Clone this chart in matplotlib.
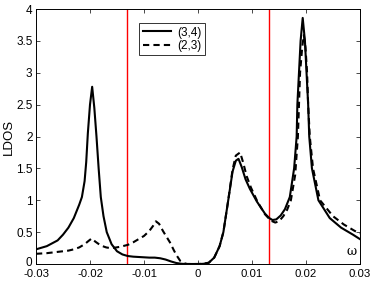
import matplotlib
matplotlib.use("Agg")
import matplotlib.pyplot as plt
from matplotlib.transforms import ScaledTranslation

plt.rcParams['font.family'] = ['Liberation Sans', 'DejaVu Sans']
plt.rcParams['axes.unicode_minus'] = False

w_34 = [-0.030, -0.028, -0.026, -0.025, -0.024, -0.023, -0.022, -0.0215, -0.021, -0.0207,
        -0.0204, -0.0200, -0.0196, -0.0192, -0.0188, -0.0184, -0.0180, -0.0175, -0.0169, -0.016,
        -0.015, -0.014, -0.013, -0.012, -0.011, -0.010, -0.009, -0.008, -0.007, -0.006,
        -0.005, -0.004, -0.003, -0.002, 0.000, 0.001, 0.002, 0.003, 0.004, 0.0047,
        0.0056, 0.0064, 0.0070, 0.0075, 0.0081, 0.0088, 0.0096, 0.0109, 0.0124, 0.0132,
        0.0138, 0.0145, 0.0153, 0.0161, 0.0170, 0.0178, 0.01827, 0.0184, 0.0187, 0.0190,
        0.01939, 0.0198, 0.0201, 0.0204, 0.0206, 0.0211, 0.0223, 0.0244, 0.0265, 0.0287, 0.030]
ldos_34 = [0.23, 0.28, 0.37, 0.46, 0.57, 0.72, 0.93, 1.05, 1.30, 1.60,
           2.05, 2.50, 2.78, 2.45, 2.00, 1.50, 1.05, 0.75, 0.50, 0.31,
           0.20, 0.15, 0.125, 0.115, 0.11, 0.105, 0.10, 0.10, 0.09, 0.07,
           0.04, 0.015, 0.003, 0.0, 0.0, 0.003, 0.02, 0.10, 0.28, 0.50,
           1.00, 1.45, 1.62, 1.65, 1.52, 1.33, 1.18, 0.98, 0.79, 0.72,
           0.69, 0.70, 0.76, 0.86, 1.05, 1.50, 2.00, 2.50, 3.00, 3.50,
           3.86, 3.50, 3.00, 2.50, 2.00, 1.50, 1.00, 0.72, 0.57, 0.46, 0.39]

w_23 = [-0.030, -0.028, -0.026, -0.025, -0.024, -0.023, -0.022, -0.021, -0.0203, -0.0197,
        -0.0190, -0.0180, -0.0170, -0.0163, -0.0155, -0.0144, -0.013, -0.012, -0.011, -0.010,
        -0.009, -0.0083, -0.0078, -0.0072, -0.0065, -0.006, -0.0052, -0.0045, -0.004, -0.0033,
        -0.0025, -0.002, 0.000, 0.001, 0.002, 0.003, 0.004, 0.0047, 0.0056, 0.0064,
        0.0070, 0.0078, 0.0084, 0.0090, 0.0098, 0.0110, 0.0124, 0.0135, 0.0143, 0.0150,
        0.0158, 0.0165, 0.0172, 0.0180, 0.0185, 0.0189, 0.0193, 0.0196, 0.0199, 0.0202,
        0.0204, 0.0207, 0.0213, 0.0226, 0.0250, 0.0270, 0.0290, 0.030]
ldos_23 = [0.16, 0.17, 0.19, 0.20, 0.21, 0.23, 0.26, 0.31, 0.36, 0.40,
           0.35, 0.29, 0.26, 0.25, 0.255, 0.27, 0.30, 0.34, 0.39, 0.44,
           0.52, 0.60, 0.67, 0.63, 0.52, 0.45, 0.34, 0.22, 0.14, 0.05,
           0.01, 0.0, 0.0, 0.003, 0.02, 0.10, 0.28, 0.50, 1.00, 1.48,
           1.70, 1.75, 1.58, 1.38, 1.20, 0.98, 0.78, 0.68, 0.65, 0.67,
           0.75, 0.85, 1.00, 1.40, 2.00, 3.00, 3.40, 3.59, 3.40, 3.00,
           2.50, 2.00, 1.50, 1.00, 0.75, 0.62, 0.52, 0.48]

red_lines = [-0.0131, 0.0131]
xticks = [-0.03, -0.02, -0.01, 0, 0.01, 0.02, 0.03]
xticklabels = ['-0.03', '-0.02', '-0.01', '0', '0.01', '0.02', '0.03']
yticks = [0, 0.5, 1, 1.5, 2, 2.5, 3, 3.5, 4]
yticklabels = ['0', '0.5', '1', '1.5', '2', '2.5', '3', '3.5', '4']

fig = plt.figure(figsize=(3.74, 2.81), dpi=100)
ax = fig.add_axes([36/374, 17/281, 324/374, 255/281])

for xv in red_lines:
    ax.axvline(xv, color='#ff0000', lw=1.0)
ax.plot(w_34, ldos_34, color='black', lw=1.5, label='(3,4)')
ax.plot(w_23, ldos_23, color='black', lw=1.5, ls=(0, (3, 2)), label='(2,3)')

ax.set_xlim(-0.03, 0.03)
ax.set_ylim(0, 4)
ax.set_xticks(xticks)
ax.set_xticklabels(xticklabels)
ax.set_yticks(yticks)
ax.set_yticklabels(yticklabels)
ax.tick_params(direction='in', top=True, right=True, length=3, width=0.5,
               labelsize=8.5)
ax.tick_params(axis='x', pad=3.5, labelsize=8.2)
ax.tick_params(axis='y', pad=2.5)
for s in ax.spines.values():
    s.set_linewidth(0.7)

# nudge the "0" y tick label up slightly so it clears the x tick labels
lbl0 = ax.get_yticklabels()[0]
lbl0.set_transform(lbl0.get_transform() + ScaledTranslation(0, 3/100, fig.dpi_scale_trans))

ax.set_ylabel('LDOS', fontsize=9.5, labelpad=1)
ax.text(0.975, 0.025, 'ω', transform=ax.transAxes, ha='center', va='bottom',
        fontsize=9, family=['DejaVu Serif'])

leg = ax.legend(loc='upper left', bbox_to_anchor=(0.318, 0.945), borderaxespad=0,
                fontsize=8.5, frameon=True, fancybox=False, edgecolor='black',
                handlelength=2.4, handletextpad=0.5, labelspacing=0.1,
                borderpad=0.3)
leg.get_frame().set_linewidth(0.7)

fig.savefig('out.png', dpi=100)
